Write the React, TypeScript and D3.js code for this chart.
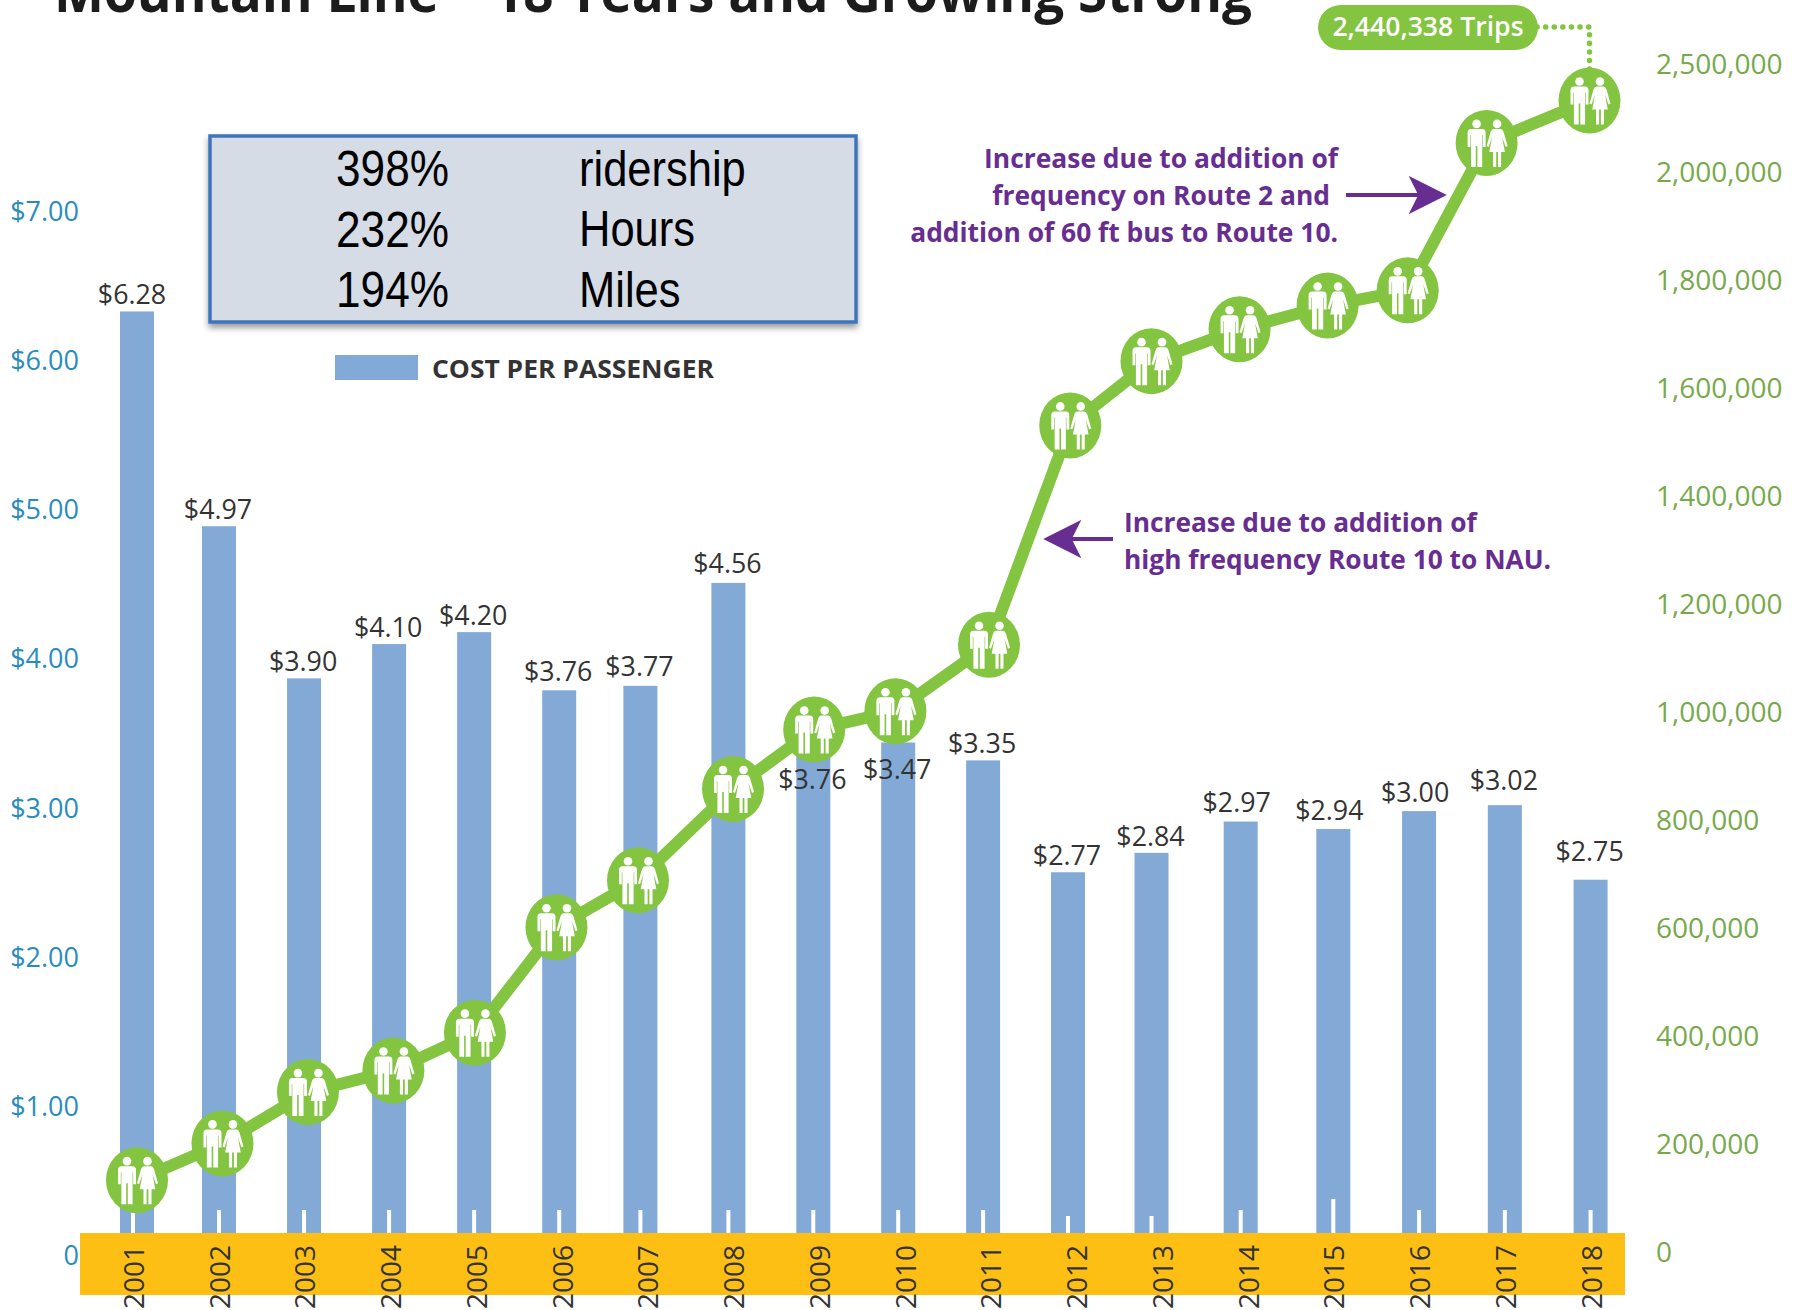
import React from "react";
import * as d3 from "d3";

const years = [2001,2002,2003,2004,2005,2006,2007,2008,2009,2010,2011,2012,2013,2014,2015,2016,2017,2018];
const costLabels = ["$6.28","$4.97","$3.90","$4.10","$4.20","$3.76","$3.77","$4.56","$3.76","$3.47","$3.35","$2.77","$2.84","$2.97","$2.94","$3.00","$3.02","$2.75"];
// bar heights (they differ a little from the printed labels)
const costBars = [6.33,4.89,3.87,4.10,4.18,3.79,3.82,4.51,3.70,3.44,3.32,2.57,2.70,2.91,2.86,2.98,3.02,2.52];
const trips = [133000,201000,296000,336000,406000,601000,688000,857000,967000,1001000,1124000,1530000,1649000,1708000,1752000,1780000,2133000,2330000];
const leftTicks = [1,2,3,4,5,6,7];
const rightTicks = [0,200000,400000,600000,800000,1000000,1200000,1400000,1600000,1800000,2000000,2500000];
const statPercents = ["398%","232%","194%"];
const statNames = ["ridership","Hours","Miles"];
const noteA = ["Increase due to addition of","frequency on Route 2 and","addition of 60 ft bus to Route 10."];
const noteB = ["Increase due to addition of","high frequency Route 10 to NAU."];
const title = "Mountain Line – 18 Years and Growing Strong";
const topLabel = "2,440,338 Trips";
const legendLabel = "COST PER PASSENGER";

const GREEN = "#83c441";
const PURPLE = "#672d91";
const FONT = "'Open Sans', sans-serif";

const xBar = d3.scaleLinear().domain([2001,2002,2006,2007,2008,2012,2013,2014,2015,2018]).range([137,219,559.2,640.4,728.4,1068,1151.5,1240.7,1333.3,1590.6]);
const xLine = d3.scaleLinear().domain([2001,2004,2007,2008,2010,2011,2013,2015,2016,2017,2018]).range([137,393.4,638,733,895.4,989,1151.5,1327.6,1407.7,1486.6,1589.5]);
const xYear = d3.scalePoint<number>().domain(years).range([133, 1590.6]);
const yCost = d3.scaleLinear().domain([0, 7]).range([1255.6, 211.5]);
const yTrips = d3.scaleLinear().domain([0, 2000000, 2500000]).range([1252, 171.5, 64]);
const fmt = d3.format(",");
const line = d3.line<number>().x((_, i) => xLine(years[i])).y((d) => yTrips(d));

const labelLift: Record<number, number> = { 2006: 20, 2007: 20, 2008: 20, 2009: -75, 2010: -26, 2013: 17, 2014: 20, 2015: 20, 2016: 20, 2017: 26, 2018: 29 };
const labelShift: Record<number, number> = { 2001: -5, 2014: -4, 2015: -4, 2016: -4 };
const tickTops: Record<number, number> = { 2012: 1216, 2013: 1216, 2015: 1199 };

function People({ x, y }: { x: number; y: number }) {
  return (
    <g transform={`translate(${x},${y})`}>
      <ellipse rx={31} ry={33} fill={GREEN} />
      <g fill="#fff">
        <circle cx={-10} cy={-19} r={4.3} />
        <path d="M-15.5,-14 H-4.5 Q-1,-14 -1,-10.5 V4 H-3.8 V-8 H-4.4 V24 H-9.2 V3 H-10.8 V24 H-15.6 V-8 H-16.2 V4 H-19 V-10.5 Q-19,-14 -15.5,-14Z" />
        <circle cx={10.5} cy={-19} r={4.3} />
        <path d="M7,-14 H14 Q16,-14 17,-11 L21,3 L19,4 L15.5,-6 L18.3,9 H14.5 V24 H11.4 V9 H9.6 V24 H6.5 V9 H2.7 L5.5,-6 L2,4 L0,3 L4,-11 Q5,-14 7,-14Z" />
      </g>
    </g>
  );
}

export default function App() {
  const tickTop = 1210, band = 1233;
  return (
    <svg width={1793} height={1310} viewBox="0 0 1793 1310" style={{ position: "absolute", left: 0, top: 0, background: "#fff" }} fontFamily={FONT}>
      <defs>
        <filter id="sh" x="-5%" y="-10%" width="110%" height="125%">
          <feDropShadow dx={0} dy={4} stdDeviation={3} floodColor="#000" floodOpacity={0.4} />
        </filter>
        <marker id="ah" viewBox="0 0 10 10" refX={9} refY={5} markerWidth={9.5} markerHeight={9.5} orient="auto-start-reverse" markerUnits="strokeWidth">
          <path d="M0,0 L10,5 L0,10 L2.5,5Z" fill={PURPLE} />
        </marker>
      </defs>

      <text x={54} y={12} fontSize={56} fontWeight={700} fill="#1c1c1c" textLength={1198} lengthAdjust="spacingAndGlyphs">{title}</text>

      {years.map((yr, i) => (
        <g key={yr}>
          <rect x={xBar(yr) - 17} width={34} y={yCost(costBars[i])} height={band - yCost(costBars[i])} fill="#83aad6" />
          <rect x={xBar(yr) - 2 - (i === 0 ? 4 : 0)} width={4} y={tickTops[yr] ?? tickTop} height={band - (tickTops[yr] ?? tickTop)} fill="#fff" />
        </g>
      ))}

      <rect x={80} y={band} width={1545} height={62} fill="#fdbf13" />
      {years.map((yr) => (
        <text key={yr} transform={`translate(${xYear(yr)},1277) rotate(-90)`} textAnchor="middle" dominantBaseline="central" fontSize={28} fill="#333">{yr}</text>
      ))}

      {leftTicks.map((t) => (
        <text key={t} x={79} y={yCost(t) - 1} textAnchor="end" dominantBaseline="central" fontSize={27} fill="#2a8cbd">{`$${t}.00`}</text>
      ))}
      <text x={79} y={yCost(0) - 1} textAnchor="end" dominantBaseline="central" fontSize={27} fill="#2a8cbd">0</text>

      {rightTicks.map((t) => (
        <text key={t} x={1656} y={yTrips(t) - 1} dominantBaseline="central" fontSize={28} fill="#77a94b">{fmt(t)}</text>
      ))}

      {years.map((yr, i) => (
        <text key={yr} x={xBar(yr) + (labelShift[yr] ?? -1)} y={yCost(costBars[i]) - (labelLift[yr] ?? 18)} textAnchor="middle" dominantBaseline="central" fontSize={26.8} fill="#333">{costLabels[i]}</text>
      ))}

      <path d={line(trips) ?? ""} fill="none" stroke={GREEN} strokeWidth={12} />
      {trips.map((v, i) => <People key={years[i]} x={xLine(years[i])} y={yTrips(v)} />)}

      <path d={`M1537,27 H${xLine(2018)} V70`} fill="none" stroke={GREEN} strokeWidth={5.5} strokeDasharray="0.1 8.5" strokeLinecap="round" />
      <rect x={1318} y={5} width={220} height={45} rx={22.5} fill={GREEN} />
      <text x={1428} y={26} textAnchor="middle" dominantBaseline="central" fontSize={26.6} fontWeight={600} fill="#fff">{topLabel}</text>

      {noteA.map((s, i) => (
        <text key={s} x={i === 1 ? 1330 : 1338} y={158 + i * 37} textAnchor="end" dominantBaseline="central" fontSize={26.4} fontWeight={700} fill={PURPLE}>{s}</text>
      ))}
      <line x1={1346} x2={1443} y1={195} y2={195} stroke={PURPLE} strokeWidth={4} markerEnd="url(#ah)" />
      {noteB.map((s, i) => (
        <text key={s} x={1124} y={521.5 + i * 37} dominantBaseline="central" fontSize={26.3} fontWeight={700} fill={PURPLE}>{s}</text>
      ))}
      <line x1={1113} x2={1047} y1={539} y2={539} stroke={PURPLE} strokeWidth={4} markerEnd="url(#ah)" />

      <rect x={210} y={136} width={646} height={186} fill="#d6dce5" stroke="#3e75bd" strokeWidth={3.5} filter="url(#sh)" />
      {statPercents.map((s, i) => (
        <g key={s} fontFamily="'Liberation Sans', Arial, sans-serif" fontSize={50} fill="#000">
          <text x={336} y={169 + i * 60.5} dominantBaseline="central" textLength={113} lengthAdjust="spacingAndGlyphs">{s}</text>
          <text transform={`translate(579,${168.5 + i * 60.5}) scale(0.87,1)`} dominantBaseline="central">{statNames[i]}</text>
        </g>
      ))}

      <rect x={335} y={355} width={83} height={25} fill="#83aad6" />
      <text x={432} y={367.5} dominantBaseline="central" fontSize={25.5} fontWeight={700} fill="#333" textLength={282} lengthAdjust="spacingAndGlyphs">{legendLabel}</text>
    </svg>
  );
}
